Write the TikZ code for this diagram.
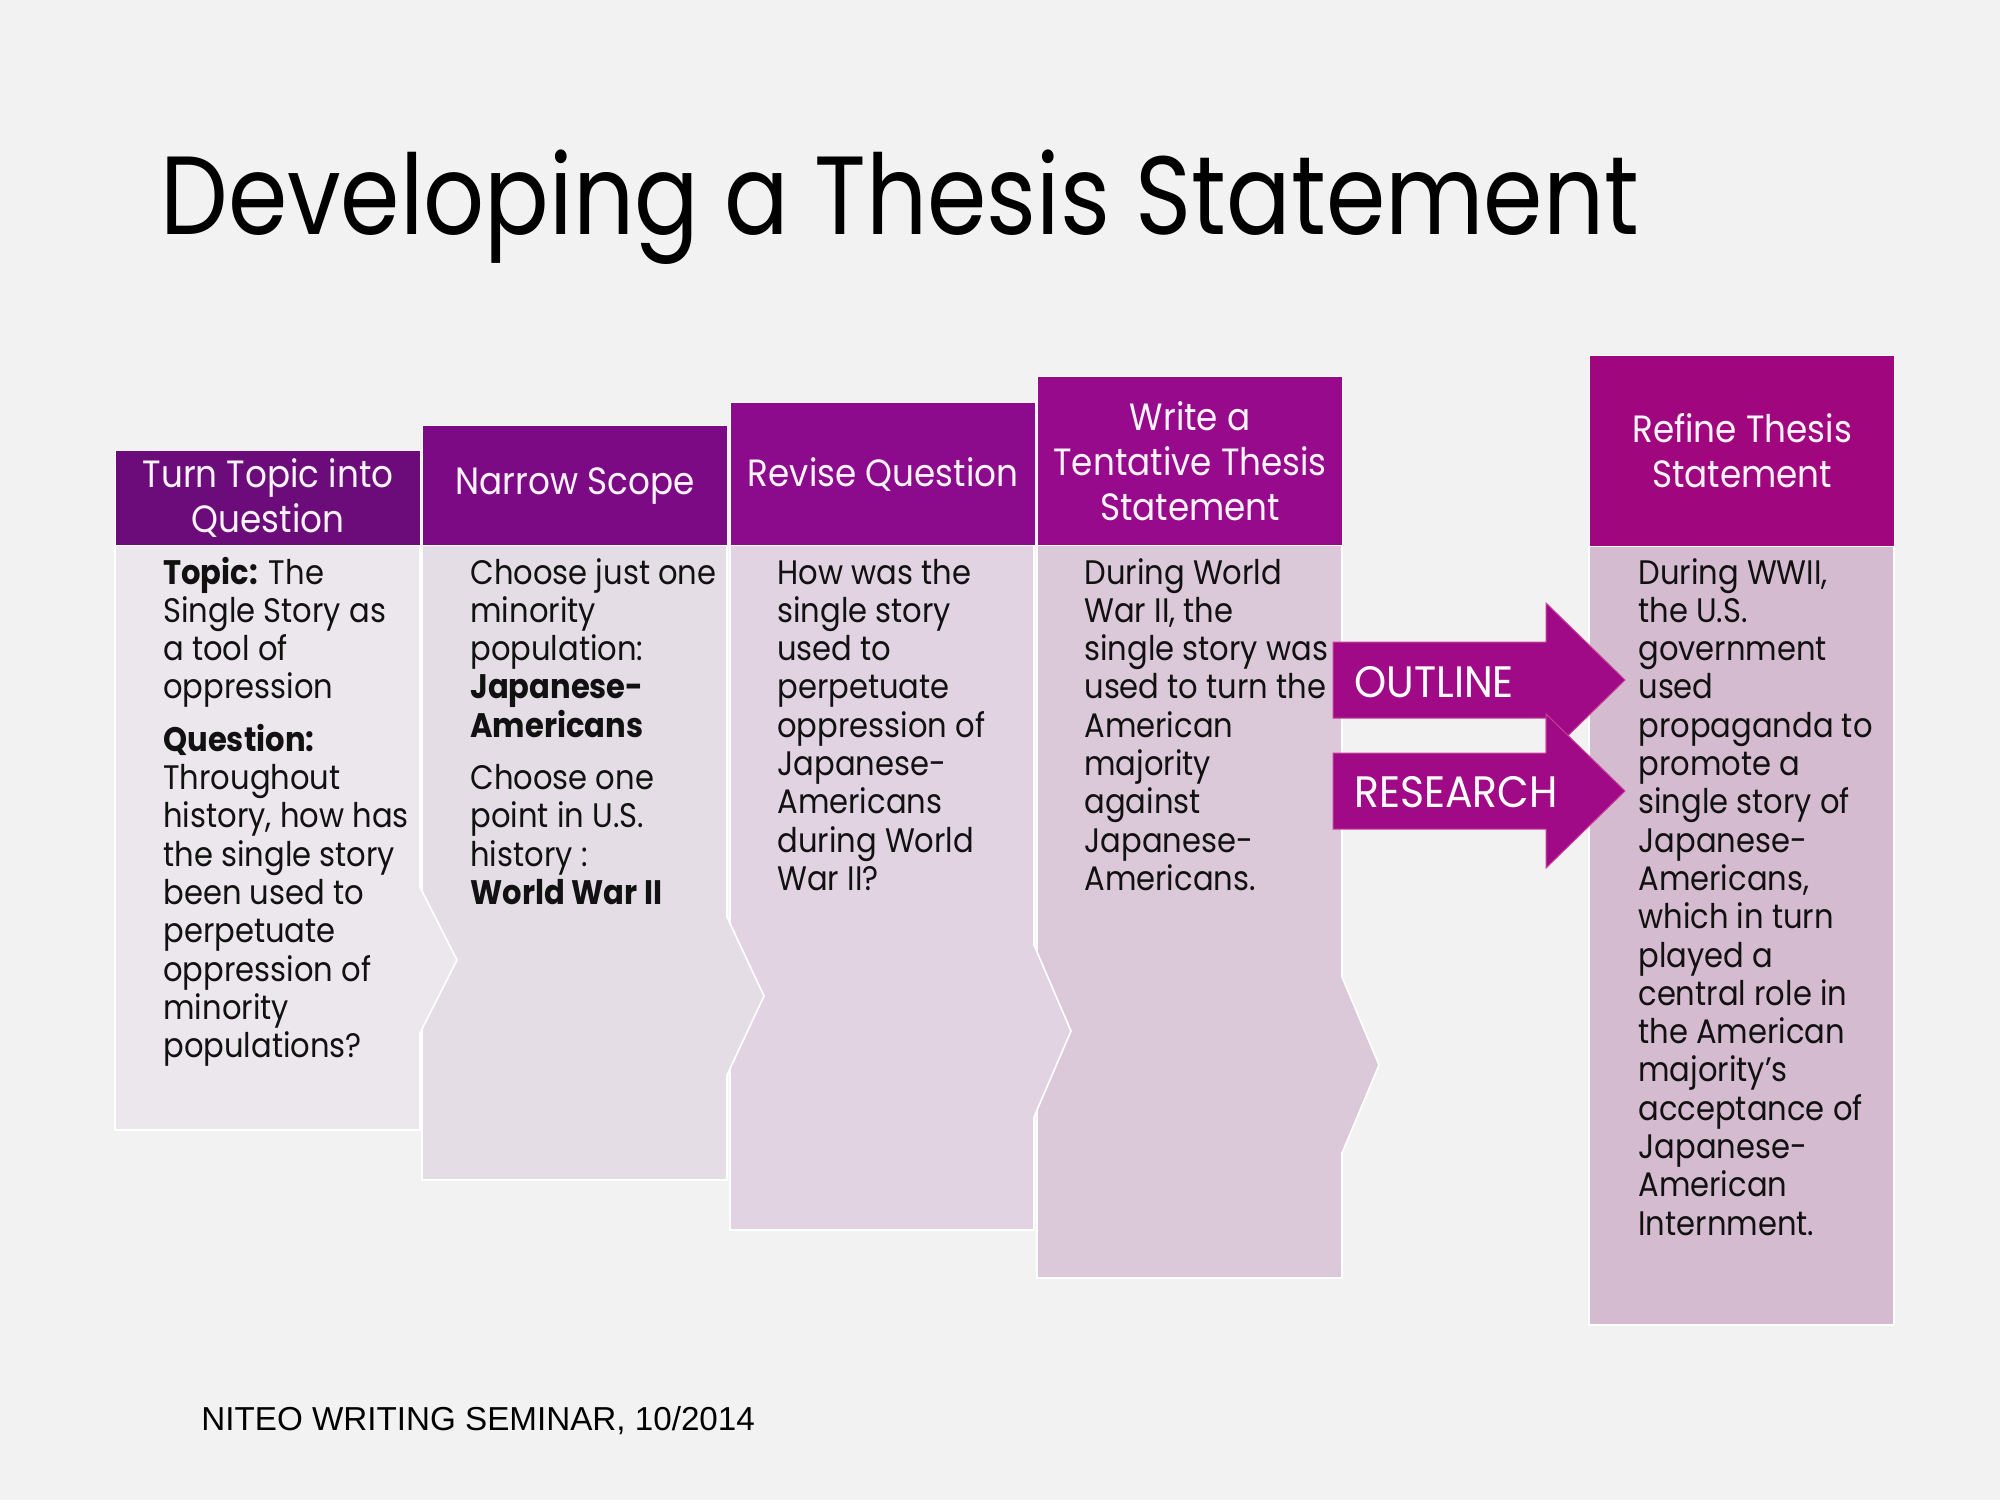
\documentclass[tikz,border=0pt]{standalone}
\usepackage{fontspec}
\setmainfont[FakeStretch=0.9]{Poppins}
\newfontfamily\titlef[FakeStretch=0.86]{Poppins}
\newfontfamily\arrowf[FakeStretch=0.93]{Poppins}
\newfontfamily\footfont{Liberation Sans}
\definecolor{bgc}{HTML}{F2F2F2}
\definecolor{hcA}{HTML}{6C0B7A}
\definecolor{hcB}{HTML}{7D0A85}
\definecolor{hcC}{HTML}{8C0A8C}
\definecolor{hcD}{HTML}{960A8B}
\definecolor{hcE}{HTML}{A0077F}
\definecolor{bcA}{HTML}{ECE7EC}
\definecolor{bcB}{HTML}{E4DDE6}
\definecolor{bcC}{HTML}{E2D3E3}
\definecolor{bcD}{HTML}{DBC8D8}
\definecolor{bcE}{HTML}{D5BBD0}
\definecolor{arc}{HTML}{A10A86}
\definecolor{arl}{HTML}{C8409A}
\definecolor{htxt}{HTML}{FFF4FF}
\definecolor{btxt}{HTML}{111111}
\newcommand\hfnt{\fontsize{19}{22.5}\selectfont}
\newcommand\bfnt{\fontsize{17}{19.15}\selectfont}
\newcommand\btext[1]{\parbox[t]{140pt}{\raggedright\bfnt #1}}
\tikzset{
  hdr/.style={draw=white, line width=0.6pt, anchor=north west, inner sep=0pt,
    minimum width=152.5pt, text=htxt, align=center, font=\hfnt},
  bodyshape/.style={draw=white, line width=0.8pt},
  bodytxt/.style={anchor=base west, inner sep=0pt, text=btxt},
  blockarrow/.style={fill=arc, draw=arl, line width=0.5pt},
  arrowtxt/.style={anchor=base west, inner sep=0pt, text=white, font=\arrowf\fontsize{22}{24}\selectfont},
}
\begin{document}
\begin{tikzpicture}[x=0.5pt,y=-0.5pt]
\fill[bgc] (0,0) rectangle (2000,1500);
\useasboundingbox (0,0) rectangle (2000,1500);

% title
\node[anchor=base west, inner sep=0pt, font=\titlef\fontsize{55.6}{60}\selectfont] (title) at (160,234) {Developing a Thesis Statement};

% bodies (right to left so chevron points overlap)
\path[bodyshape, fill=bcE] (1589,546) rectangle (1894,1325);
\path[bodyshape, fill=bcD] (1037,545) -- (1342,545) -- (1342,977) -- (1379,1065) -- (1342,1153) -- (1342,1278) -- (1037,1278) -- cycle;
\path[bodyshape, fill=bcC] (730,545) -- (1034,545) -- (1034,945) -- (1071,1031) -- (1034,1117) -- (1034,1230) -- (730,1230) -- cycle;
\path[bodyshape, fill=bcB] (422,545) -- (727,545) -- (727,917) -- (764,996) -- (727,1075) -- (727,1180) -- (422,1180) -- cycle;
\path[bodyshape, fill=bcA] (115,545) -- (420,545) -- (420,887) -- (457,960) -- (420,1033) -- (420,1130) -- (115,1130) -- cycle;

% headers
\node[hdr, fill=hcA, minimum height=47.5pt] (h1) at (115,450) {Turn Topic into\\Question};
\node[hdr, fill=hcB, minimum height=60pt] (h2) at (422,425) {Narrow Scope};
\node[hdr, fill=hcC, minimum height=71.5pt] (h3) at (730,402) {Revise Question};
\node[hdr, fill=hcD, minimum height=84.5pt] (h4) at (1037,376) {Write a\\Tentative Thesis\\Statement};
\node[hdr, fill=hcE, minimum height=95.5pt] (h5) at (1589,355) {Refine Thesis\\Statement};

% body texts
\node[bodytxt] (b1) at (163,584) {\btext{\textbf{Topic:} The\\Single Story as\\a tool of\\oppression\\[7pt]\textbf{Question:}\\Throughout\\history, how has\\the single story\\been used to\\perpetuate\\oppression of\\minority\\populations?}};
\node[bodytxt] (b2) at (470,584) {\btext{Choose just one\\minority\\population:\\\textbf{Japanese-}\\\textbf{Americans}\\[7pt]Choose one\\point in U.S.\\history :\\\textbf{World War II}}};
\node[bodytxt] (b3) at (777,584) {\btext{How was the\\single story\\used to\\perpetuate\\oppression of\\Japanese-\\Americans\\during World\\War II?}};
\node[bodytxt] (b4) at (1084,584) {\btext{During World\\War II, the\\single story was\\used to turn the\\American\\majority\\against\\Japanese-\\Americans.}};
\node[bodytxt] (b5) at (1638,584) {\btext{During WWII,\\the U.S.\\government\\used\\propaganda to\\promote a\\single story of\\Japanese-\\Americans,\\which in turn\\played a\\central role in\\the American\\majority’s\\acceptance of\\Japanese-\\American\\Internment.}};

% block arrows
\path[blockarrow] (1333,642) -- (1546,642) -- (1546,603) -- (1625,680) -- (1546,757) -- (1546,718) -- (1333,718) -- cycle;
\path[blockarrow] (1333,753) -- (1546,753) -- (1546,714) -- (1625,791) -- (1546,868) -- (1546,829) -- (1333,829) -- cycle;
\node[arrowtxt] (outl) at (1354,697) {OUTLINE};
\node[arrowtxt] (rsch) at (1354,807) {RESEARCH};

% footer
\node[anchor=base west, inner sep=0pt, font=\footfont\fontsize{16.6}{18}\selectfont] (foot) at (201,1430) {NITEO WRITING SEMINAR, 10/2014};
\end{tikzpicture}
\end{document}
